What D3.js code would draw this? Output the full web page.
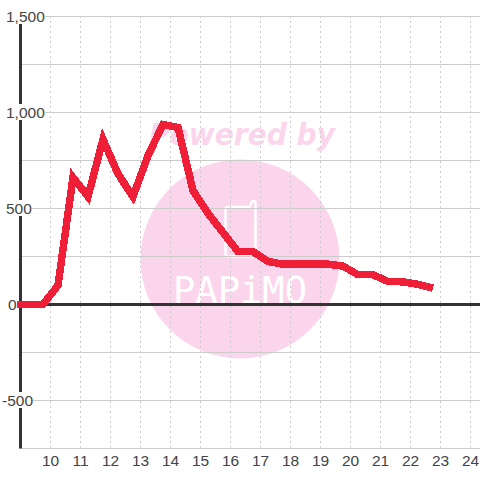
<!DOCTYPE html>
<html><head><meta charset="utf-8">
<script src="https://cdnjs.cloudflare.com/ajax/libs/d3/7.8.5/d3.min.js"></script>
<style>html,body{margin:0;padding:0;background:#fff}svg{display:block}text{font-family:"Liberation Sans",Arial,sans-serif}</style>
</head><body><svg id="c" width="480" height="480"></svg>
<script>
const hours=[9.25,9.75,10.25,10.75,11.25,11.75,12.25,12.75,13.25,13.75,14.25,14.75,15.25,15.75,16.25,16.75,17.25,17.75,18.25,18.75,19.25,19.75,20.25,20.75,21.25,21.75,22.25,22.75];
const values=[0,0,100,662,562,860,680,562,776,937,922,594,474,375,275,275,224,210,210,210,210,200,155,155,120,118,105,85];
const yTicks=[-500,0,500,1000,1500];
const yLabels=["-500","0","500","1,000","1,500"];
const yGrid=[-750,-500,-250,0,250,500,750,1000,1250,1500];
const xTicks=[10,11,12,13,14,15,16,17,18,19,20,21,22,23,24];
const xs=d3.scaleLinear().domain([10,24]).range([50.5,470.5]);
const ys=d3.scaleLinear().domain([0,1500]).range([304.5,16.5]);
const svg=d3.select("#c");
const L=20.5,R=480,B=ys(-750);
const pink="#fbd5ec";
// watermark
const wm=svg.append("g");
wm.append("circle").attr("cx",240).attr("cy",259).attr("r",99.5).attr("fill",pink);
wm.append("text").attr("x",242).attr("y",145).attr("text-anchor","middle").attr("font-size",31).attr("font-weight","bold").attr("font-style","italic").attr("fill",pink).style("font-family","'DejaVu Sans'").attr("textLength",186).attr("lengthAdjust","spacingAndGlyphs").text("Powered by");
wm.append("path").attr("d","M228 207 H250 Q251 201 253.5 201 Q256 201 255.5 207 V254 Q255.5 256.5 253 256.5 H228 Q225.5 256.5 225.5 254 V209.5 Q225.5 207 228 207Z").attr("fill","none").attr("stroke","#fff").attr("stroke-width",2.5);
wm.append("text").attr("x",240).attr("y",303).attr("text-anchor","middle").attr("font-size",38).attr("fill","#fff").style("font-family","'DejaVu Sans Mono'").attr("textLength",134).attr("lengthAdjust","spacingAndGlyphs").text("PAPiMO");
// grid
svg.append("g").selectAll("line").data(xTicks).join("line").attr("x1",d=>xs(d)).attr("x2",d=>xs(d)).attr("y1",16).attr("y2",B).attr("stroke","#ccc").attr("stroke-dasharray","2,3");
svg.append("g").selectAll("line").data(yGrid).join("line").attr("x1",L).attr("x2",R).attr("y1",d=>ys(d)).attr("y2",d=>ys(d)).attr("stroke","#ccc");
// axes
svg.append("line").attr("x1",L).attr("x2",L).attr("y1",16).attr("y2",B).attr("stroke","#333").attr("stroke-width",3);
svg.append("line").attr("x1",L).attr("x2",R).attr("y1",ys(0)).attr("y2",ys(0)).attr("stroke","#333").attr("stroke-width",3);
// y labels with white backing
const labelX=[2,8,6,6,6], labelW=[31,8,26,39,39];
const yl=svg.append("g").selectAll("g").data(yTicks).join("g");
yl.append("rect").attr("x",(d,i)=>labelX[i]).attr("y",d=>ys(d)-8.5).attr("width",(d,i)=>labelW[i]).attr("height",16).attr("fill","#fff");
yl.append("text").attr("x",(d,i)=>labelX[i]).attr("y",d=>ys(d)+5.5).attr("font-size",15.5).attr("fill","#444").text((d,i)=>yLabels[i]);
// x labels
svg.append("g").selectAll("text").data(xTicks).join("text").attr("x",d=>xs(d)).attr("y",466).attr("text-anchor","middle").attr("font-size",15.5).attr("fill","#444").text(d=>d);
// line
const line=d3.line().x((d,i)=>i===0?17:xs(hours[i])).y(d=>ys(d));
svg.append("path").datum(values).attr("d",line).attr("fill","none").attr("stroke","#f01f38").attr("stroke-width",7.5).attr("stroke-linejoin","miter").attr("shape-rendering","crispEdges");
</script></body></html>
